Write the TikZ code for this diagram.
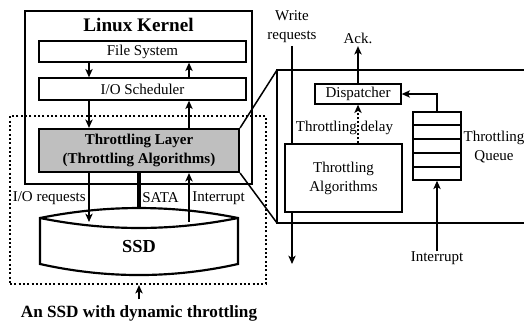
\documentclass[tikz,border=0pt]{standalone}
\usepackage{fontspec}
\setmainfont{Liberation Serif}
\usetikzlibrary{arrows.meta,calc}
\newcommand\mytext{\fontsize{9}{11.4}\selectfont}

\begin{document}
\begin{tikzpicture}[
        x=0.6pt, y=-0.6pt,
        mybox/.style 2 args={
            draw=black,
            line width=0.8pt,
            minimum width=#1*0.6pt,
            minimum height=#2*0.6pt,
            inner sep=0pt,
            align=center,
            font=\mytext},
        thickbox/.style={line width=1.3pt},
        mylabel/.style={inner sep=1.5pt, align=center, font=\mytext},
        myarrow/.style={-{Stealth[length=5pt,width=4.4pt,inset=1.3pt]}, line width=0.8pt}
        ]
        \useasboundingbox (0,0) rectangle (524,323);

        % host side
        \node[mybox={227}{173},thickbox] (kernel) at (138.5,97.5) {};
        \node[font=\bfseries\fontsize{11.5}{13}\selectfont] (title) at (138.5,25) {Linux Kernel};
        \node[mybox={207}{21}] (fs) at (142.5,51.5) {File System};
        \node[mybox={207}{22}] (sched) at (142.5,89) {I/O Scheduler};
        \node[mybox={256}{168},thickbox,dash pattern=on 1.3pt off 1.3pt] (ssdbox) at (138,200) {};
        \node[mybox={200}{43},thickbox,fill=black!25,font=\bfseries\mytext] (layer) at (139,150.5)
            {Throttling Layer\\(Throttling Algorithms)};

        % the drive
        \draw[line width=1.3pt] (40,218) .. controls (106,204.7) and (172,204.7) .. (238,218)
            -- (238,264) .. controls (172,278.7) and (106,278.7) .. (40,264) -- cycle;
        \draw[line width=1.3pt] (40,218) .. controls (106,231.3) and (172,231.3) .. (238,218);
        \node[font=\bfseries\fontsize{11}{13}\selectfont] (ssd) at (139,247) {SSD};
        \coordinate (ssdin) at (89,222);
        \coordinate (ssdout) at (189,222);
        \coordinate (ssdtop) at (139,208);

        \coordinate (cl) at (89,0);
        \coordinate (cr) at (189,0);
        \foreach \i/\j/\c in {% from/to/column
            fs.south/sched.north/cl,
            sched.north/fs.south/cr,
            sched.south/layer.north/cl,
            layer.north/sched.south/cr}
            \draw[myarrow] (\i -| \c) -- (\j -| \c);
        \draw[myarrow] (layer.south -| cl) -- (ssdin);
        \draw[myarrow] (ssdout) -- (layer.south -| cr);
        \draw[line width=2pt] (layer.south -| ssdtop) -- (ssdtop);

        \node[mylabel,anchor=east,inner sep=0pt] (ioreq) at (86,198) {I/O requests};
        \node[mylabel,anchor=west,inner sep=0pt] (sata) at (142,198) {SATA};
        \node[mylabel,anchor=west,inner sep=0pt] (intr) at (192,198) {Interrupt};

        \node[font=\bfseries\fontsize{10.3}{12}\selectfont] (caption) at (139,313)
            {An SSD with dynamic throttling};
        \draw[myarrow] (caption.north) -- (caption.north |- ssdbox.south);

        % zoomed view of the layer
        \coordinate (zt) at (277,70);
        \coordinate (zb) at (277,223);
        \draw[line width=0.9pt] (layer.north east) -- (zt);
        \draw[line width=0.9pt] (layer.south east) -- (zb);
        \draw[line width=1.3pt] (524,70) -- (zt) -- (zb) -- (524,223);

        \node[mybox={86}{20}] (disp) at (358,94) {Dispatcher};
        \node[mybox={117}{68}] (alg) at (343.5,178) {Throttling\\Algorithms};
        \node[mybox={48}{68},line width=0.9pt] (queue) at (437,146) {};
        \foreach \k in {1,...,4}
            \draw[line width=0.8pt] ($(queue.north west)!\k/5!(queue.south west)$)
                -- ($(queue.north east)!\k/5!(queue.south east)$);
        \node[mylabel] (qlabel) at (494,147) {Throttling\\Queue};
        \node[mylabel] (ack) at (358,38) {Ack.};
        \node[mylabel] (wr) at (292,27) {Write\\requests};
        \node[mylabel,inner sep=0pt] (delay) at (344.5,128) {Throttling delay};
        \node[mylabel,inner sep=0pt] (intr2) at (437,258) {Interrupt};
        \coordinate (wrend) at (292,264);

        \draw[myarrow] (disp.north) -- (ack.south);
        \draw[line width=0.8pt] (wr.south) -- (wr.south |- alg.north);
        \draw[myarrow] (wr.south |- alg.south) -- (wrend);
        \draw[myarrow,dash pattern=on 1.2pt off 1.2pt] (alg.north -| disp.south) -- (disp.south);
        \draw[myarrow] (queue.north) |- (disp.east);
        \draw[myarrow] (intr2.north) -- (queue.south);
\end{tikzpicture}
\end{document}
